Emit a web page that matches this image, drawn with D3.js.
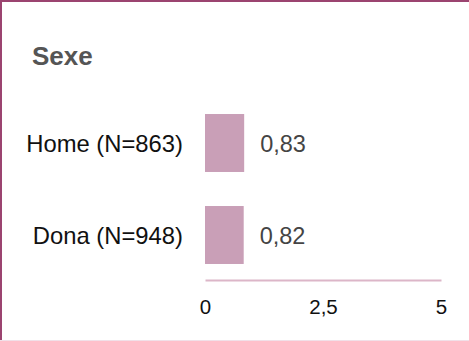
<!DOCTYPE html>
<html>
<head>
<meta charset="utf-8">
<script src="https://cdn.jsdelivr.net/npm/d3@7"></script>
<style>
  html, body { margin: 0; padding: 0; background: #fff; }
  svg { display: block; font-family: "Liberation Sans", Arial, Helvetica, sans-serif; }
</style>
</head>
<body>
<svg id="chart" width="469" height="341"></svg>
<script>
const title = "Sexe";
const categories = ["Home (N=863)", "Dona (N=948)"];
const values = [0.83, 0.82];
const tickValues = [0, 2.5, 5];
const xDomain = [0, 5];

const W = 469, H = 341;
const svg = d3.select("#chart");
const locale = d3.formatLocale({ decimal: ",", thousands: ".", grouping: [3], currency: ["", "€"] });
const fmtVal = locale.format(".2f");
const fmtTick = v => locale.format("~g")(v);

// frame
svg.append("rect").attr("x", 0).attr("y", 0).attr("width", W).attr("height", 2).attr("fill", "#9b4470");
svg.append("rect").attr("x", 0).attr("y", 0).attr("width", 2).attr("height", H).attr("fill", "#9b4470");
svg.append("rect").attr("x", 0).attr("y", H - 1).attr("width", W).attr("height", 1).attr("fill", "#f1e0e8");

// title
svg.append("text").attr("x", 32).attr("y", 65)
  .attr("font-size", 26).attr("font-weight", "bold").attr("fill", "#555")
  .text(title);

const x = d3.scaleLinear().domain(xDomain).range([205, 441]);
const y = d3.scaleBand().domain(categories).range([97, 281]).paddingInner(0.37).paddingOuter(0.185);

svg.append("g").selectAll("rect").data(categories).join("rect")
  .attr("x", x(0)).attr("y", d => y(d))
  .attr("width", (d, i) => x(values[i]) - x(0))
  .attr("height", y.bandwidth())
  .attr("fill", "#c99fb7");

svg.append("g").selectAll("text").data(categories).join("text")
  .attr("x", x(0) - 22).attr("y", d => y(d) + y.bandwidth() / 2 + 8.5)
  .attr("text-anchor", "end").attr("font-size", 23.8).attr("fill", "#111")
  .text(d => d);

svg.append("g").selectAll("text").data(categories).join("text")
  .attr("x", (d, i) => x(values[i]) + 16).attr("y", d => y(d) + y.bandwidth() / 2 + 8.5)
  .attr("font-size", 23.5).attr("fill", "#444")
  .text((d, i) => fmtVal(values[i]));

const axis = d3.axisBottom(x).tickValues(tickValues).tickSize(0).tickPadding(19).tickFormat(fmtTick);
const ag = svg.append("g").attr("transform", "translate(0,280)").call(axis);
ag.select(".domain").attr("stroke", "#dcb6c8").attr("stroke-width", 2);
ag.selectAll("text").attr("font-size", 20.5).attr("fill", "#111")
  .attr("font-family", "'Liberation Sans', Arial, Helvetica, sans-serif");
</script>
</body>
</html>
